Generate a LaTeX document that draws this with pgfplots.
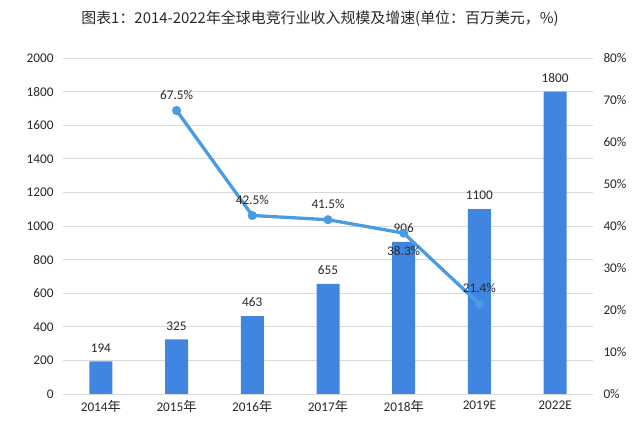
\documentclass[border=0pt]{standalone}
\usepackage{pgfplots}
\pgfplotsset{compat=1.18}
\usepackage{fontspec}
\setmainfont{Carlito}
\newfontfamily\cjk{Noto Sans CJK SC}
\definecolor{barblue}{RGB}{64,134,224}
\definecolor{lineblue}{RGB}{74,156,226}
\definecolor{gridgray}{RGB}{217,217,217}
\definecolor{txt}{RGB}{40,40,40}
\begin{document}
\begin{tikzpicture}
\pgfplotsset{
  every axis/.append style={
    scale only axis, width=530bp, height=336bp,
    xmin=-0.5, xmax=6.5,
    axis line style={draw=none},
    tick style={draw=none},
    ticklabel style={font=\fontsize{13.3}{15}\selectfont, text=txt},
    /pgf/number format/assume math mode=true,
    /pgf/number format/1000 sep={},
  }
}
\begin{axis}[
  ymin=0, ymax=2000, ytick={0,200,...,2000},
  ymajorgrids, grid style={gridgray, line width=0.8bp},
  xtick={0,...,6},
  xticklabels={2014{\cjk 年},2015{\cjk 年},2016{\cjk 年},2017{\cjk 年},2018{\cjk 年},2019E,2022E},
  yticklabel style={xshift=-6bp},
  xticklabel style={yshift=-3bp},
]
\addplot[ybar, bar width=23bp, fill=barblue, draw=none,
  nodes near coords,
  every node near coord/.append style={font=\fontsize{13.3}{15}\selectfont, text=txt, inner sep=0pt, anchor=south, yshift=9bp}]
  coordinates {(0,194) (1,325) (2,463) (3,655) (4,906) (5,1100) (6,1800)};
\end{axis}
\begin{axis}[
  ymin=0, ymax=80, ytick={0,10,...,80},
  axis y line*=right, hide x axis,
  yticklabel={\pgfmathprintnumber{\tick}\%},
  yticklabel style={xshift=7bp, anchor=west},
]
\addplot[lineblue, line width=3.3bp, mark=*, mark size=2.8bp, mark options={fill=lineblue}]
  coordinates {(1,67.5) (2,42.5) (3,41.5) (4,38.3) (5,21.4)};
\addplot[draw=none, nodes near coords={\pgfmathprintnumber[fixed,fixed zerofill,precision=1]{\pgfplotspointmeta}\%},
  every node near coord/.append style={font=\fontsize{13.3}{15}\selectfont, text=txt, inner sep=0pt, anchor=south, yshift=11bp}]
  coordinates {(1,67.5) (2,42.5) (3,41.5) (5,21.4)};
\addplot[draw=none, nodes near coords={\pgfmathprintnumber[fixed,fixed zerofill,precision=1]{\pgfplotspointmeta}\%},
  every node near coord/.append style={font=\fontsize{13.3}{15}\selectfont, text=txt, inner sep=0pt, anchor=north, yshift=-13bp}]
  coordinates {(4,38.3)};
\end{axis}
\node[font=\cjk\fontsize{15}{17}\selectfont, text=txt] at (257bp,375bp) {图表1：2014-2022年全球电竞行业收入规模及增速(单位：百万美元，\%)};
\path (-63bp,-34bp) rectangle (577bp,394bp);
\end{tikzpicture}
\end{document}
